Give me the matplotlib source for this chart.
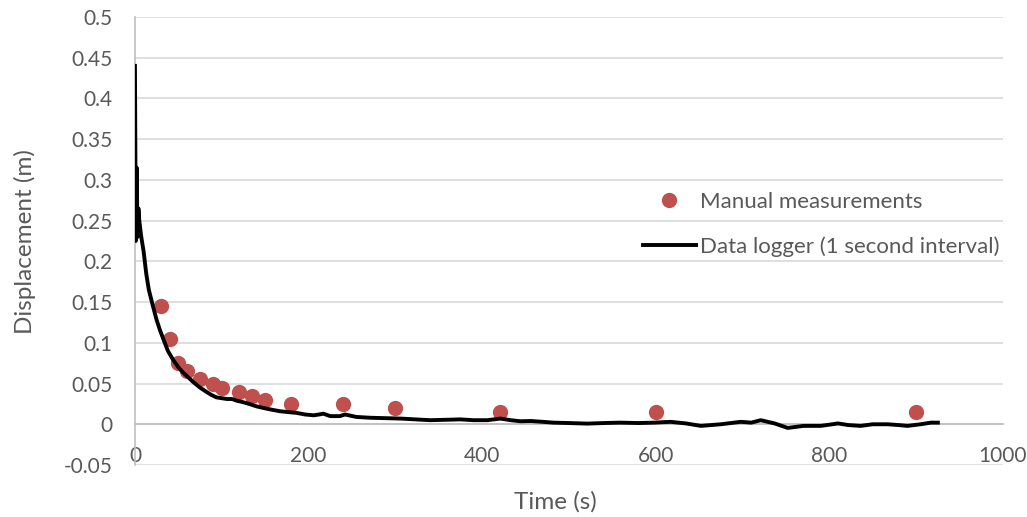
import matplotlib
matplotlib.use('Agg')
import matplotlib.pyplot as plt
from matplotlib.ticker import FuncFormatter

plt.rcParams['font.family'] = ['Lato', 'DejaVu Sans']

# manual readings (s, m)
manual_t = [30, 40, 50, 60, 75, 90, 100, 120, 135, 150, 180, 240, 300, 420, 600, 900]
manual_d = [0.145, 0.105, 0.075, 0.065, 0.055, 0.05, 0.045, 0.04, 0.035, 0.03,
            0.025, 0.025, 0.02, 0.015, 0.015, 0.015]

# data logger trace
logger_t = [0, 1, 2, 3, 4, 5, 7, 10, 13, 16, 21, 25, 29, 34, 38, 44, 50, 55, 60, 67,
            75, 82, 88, 94, 100, 106, 112, 117, 125, 133, 140, 148, 157, 167, 176, 186,
            196, 206, 212, 217, 225, 236, 242, 255, 271, 288, 306, 323, 340, 358, 375,
            390, 406, 421, 433, 444, 456, 470, 482, 500, 521, 540, 559, 580, 598, 617,
            635, 652, 675, 698, 710, 721, 737, 752, 770, 790, 810, 822, 836, 850, 867,
            880, 890, 905, 917, 925]
logger_d = [0.44, 0.225, 0.315, 0.23, 0.265, 0.25, 0.232, 0.212, 0.185, 0.165, 0.144,
            0.128, 0.115, 0.101, 0.09, 0.079, 0.07, 0.064, 0.059, 0.052, 0.045, 0.04,
            0.036, 0.033, 0.032, 0.031, 0.031, 0.029, 0.027, 0.0245, 0.022, 0.02, 0.018,
            0.016, 0.015, 0.014, 0.012, 0.011, 0.012, 0.013, 0.01, 0.01, 0.012, 0.009,
            0.008, 0.0075, 0.007, 0.006, 0.005, 0.0055, 0.006, 0.005, 0.005, 0.007,
            0.005, 0.0037, 0.004, 0.003, 0.002, 0.0015, 0.0008, 0.0015, 0.002, 0.0015,
            0.002, 0.003, 0.001, -0.002, 0.0, 0.003, 0.002, 0.005, 0.001, -0.0045,
            -0.002, -0.002, 0.001, -0.001, -0.002, 0.0, 0.0, -0.001, -0.002, 0.0,
            0.002, 0.002]

x_ticks = [0, 200, 400, 600, 800, 1000]
y_ticks = [-0.05, 0, 0.05, 0.1, 0.15, 0.2, 0.25, 0.3, 0.35, 0.4, 0.45, 0.5]

txt = '#595959'
grid = '#d9d9d9'

fig = plt.figure(figsize=(10.27, 5.17), dpi=100)
ax = fig.add_axes([0.1314, 0.1006, 0.8452, 0.8665])

ax.plot(manual_t, manual_d, 'o', color='#c0504d', markersize=11,
        markeredgewidth=0, label='Manual measurements', zorder=3)
ax.plot(logger_t, logger_d, '-', color='black', linewidth=2.8,
        label='Data logger (1 second interval)', zorder=4)

ax.set_xlim(0, 1000)
ax.set_ylim(-0.05, 0.5)
ax.set_xticks(x_ticks)
ax.set_yticks(y_ticks)
ax.yaxis.set_major_formatter(FuncFormatter(lambda v, p: '%g' % round(v, 2)))

ax.grid(axis='y', color=grid, linewidth=1.2)
ax.set_axisbelow(True)
for s in ['top', 'right']:
    ax.spines[s].set_visible(False)
ax.spines['left'].set_color('#bfbfbf')
ax.spines['left'].set_linewidth(1.2)
ax.spines['bottom'].set_position(('data', 0))
ax.spines['bottom'].set_color('#bfbfbf')
ax.spines['bottom'].set_linewidth(1.3)
ax.tick_params(axis='both', length=0, labelsize=15, labelcolor=txt)
ax.tick_params(axis='y', pad=16)
ax.tick_params(axis='x', pad=16)

fig.text(555 / 1027, 1 - 502 / 517, 'Time (s)', ha='center', va='center',
         fontsize=17.5, color=txt)
fig.text(25 / 1027, 1 - 242 / 517, 'Displacement (m)', ha='center', va='center',
         rotation=90, fontsize=17.5, color=txt)

ax.legend(loc='upper left', bbox_to_anchor=(0.585, 0.609), frameon=False,
          fontsize=16, labelcolor=txt, handlelength=2.4, handletextpad=0.18,
          labelspacing=1.1, borderpad=0, borderaxespad=0)

fig.savefig('out.png', dpi=100)
